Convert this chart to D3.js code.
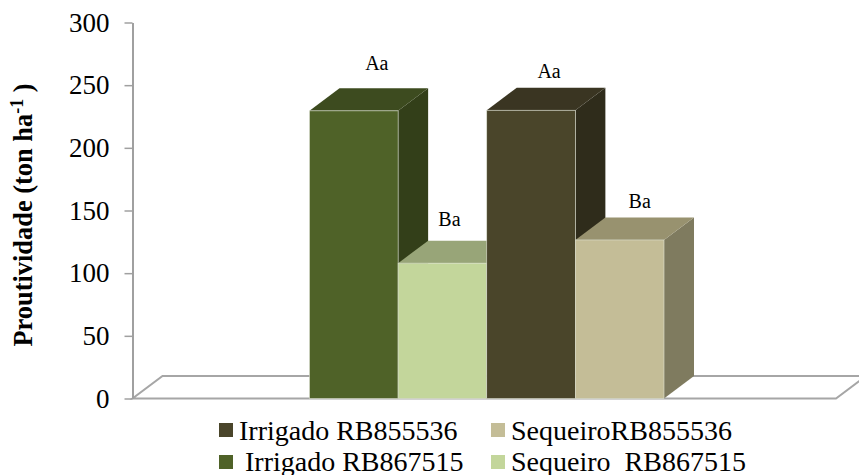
<!DOCTYPE html>
<html>
<head>
<meta charset="utf-8">
<script src="https://cdnjs.cloudflare.com/ajax/libs/d3/7.8.5/d3.min.js"></script>
<style>
  html, body { margin: 0; padding: 0; background: #fff; }
  svg { display: block; }
  text { font-family: "Liberation Serif", "Times New Roman", serif; fill: #000; }
</style>
</head>
<body>
<svg id="chart" width="859" height="475"></svg>
<script>
// Sugarcane yield by water regime and cultivar
const categories = ["Irrigado RB867515", "Sequeiro  RB867515", "Irrigado RB855536", "SequeiroRB855536"];
const values = [229.5, 108, 230, 126.5];
const letters = ["Aa", "Ba", "Aa", "Ba"];
const yTicks = [0, 50, 100, 150, 200, 250, 300];
const legendRows = [
  ["Irrigado RB855536", "SequeiroRB855536"],
  ["Irrigado RB867515", "Sequeiro  RB867515"]
];

const frontColors = ["#4f6228", "#c3d69b", "#4a452a", "#c4bd97"];
const topColors = ["#3d4b1f", "#98a578", "#3a3522", "#98926f"];
const sideColors = ["#333f19", "#7e8b64", "#2f2c1b", "#7f7b5f"];
const legendColors = { "Irrigado RB855536": "#4a452a", "SequeiroRB855536": "#c4bd97", "Irrigado RB867515": "#4f6228", "Sequeiro  RB867515": "#c3d69b" };

const margin = { left: 132.5, right: 836, top: 22.5, bottom: 398.5 };
const depthX = 30, depthY = 22.5;

const svg = d3.select("#chart");
const y = d3.scaleLinear().domain([0, 300]).range([margin.bottom, margin.top]);
const x = d3.scaleBand().domain(categories).range([309.5, 664]).padding(0);

// Floor of the 3D box
const floor = d3.path();
floor.moveTo(margin.right + depthX, margin.bottom - depthY);
floor.lineTo(margin.left + depthX, margin.bottom - depthY);
floor.lineTo(margin.left, margin.bottom);
floor.lineTo(margin.right, margin.bottom);
floor.lineTo(margin.right + depthX, margin.bottom - depthY);
svg.append("path").attr("d", floor.toString()).attr("fill", "none")
  .attr("stroke", "#a6a6a6").attr("stroke-width", 2);

// Value axis
const axis = svg.append("g").attr("transform", `translate(${margin.left},0)`)
  .call(d3.axisLeft(y).tickValues(yTicks).tickSize(8).tickSizeOuter(0).tickPadding(15));
axis.select(".domain").attr("stroke", "#a0a0a0").attr("stroke-width", 2);
axis.selectAll(".tick line").attr("stroke", "#a0a0a0").attr("stroke-width", 1.5);
axis.selectAll(".tick text").attr("font-size", 27).attr("font-family", '"Liberation Serif"');

// Bars, painted left to right so each one overlaps the previous side face
const bars = svg.append("g").selectAll("g").data(categories).join("g");
const poly = pts => d3.line()(pts) + "Z";
bars.append("path").attr("fill", (d, i) => sideColors[i]).attr("d", (d, i) => {
  const r = x(d) + x.bandwidth(), t = y(values[i]), b = y(0);
  return poly([[r, t], [r + depthX, t - depthY], [r + depthX, b - depthY], [r, b]]);
});
bars.append("path").attr("fill", (d, i) => topColors[i]).attr("d", (d, i) => {
  const l = x(d), r = l + x.bandwidth(), t = y(values[i]);
  return poly([[l, t], [l + depthX, t - depthY], [r + depthX, t - depthY], [r, t]]);
});
bars.append("rect")
  .attr("x", d => x(d)).attr("y", (d, i) => y(values[i]))
  .attr("width", x.bandwidth()).attr("height", (d, i) => y(0) - y(values[i]))
  .attr("fill", (d, i) => frontColors[i])
  .attr("stroke", "#dfe3d4").attr("stroke-width", 0.6);

// Significance letters, placed above each column
const letterOffsets = [[23, 40.5], [7, 37], [18, 32], [20, 32]];
bars.append("text")
  .attr("x", (d, i) => x(d) + letterOffsets[i][0] + x.bandwidth() / 2)
  .attr("y", (d, i) => y(values[i]) - letterOffsets[i][1])
  .attr("text-anchor", "middle").attr("font-size", 20)
  .text((d, i) => letters[i]);

// Rotated value-axis title with superscript
const title = svg.append("text")
  .attr("transform", "translate(32,215) rotate(-90)")
  .attr("text-anchor", "middle").attr("font-size", 26.4).attr("font-weight", "bold");
title.append("tspan").text("Proutividade (ton ha");
title.append("tspan").attr("dy", -9).attr("font-size", 18).text("-1");
title.append("tspan").attr("dy", 9).text(" )");

// Two-row legend
const legendX = [219, 491], legendTextX = [[239, 511], [245, 511]], legendY = [423, 455], legendBase = [440, 471];
legendRows.forEach((row, r) => row.forEach((name, c) => {
  svg.append("rect").attr("x", legendX[c]).attr("y", legendY[r]).attr("width", 14).attr("height", 14)
    .attr("fill", legendColors[name]);
  svg.append("text").attr("x", legendTextX[r][c]).attr("y", legendBase[r])
    .attr("font-size", 28).style("white-space", "pre").text(name);
}));
</script>
</body>
</html>
